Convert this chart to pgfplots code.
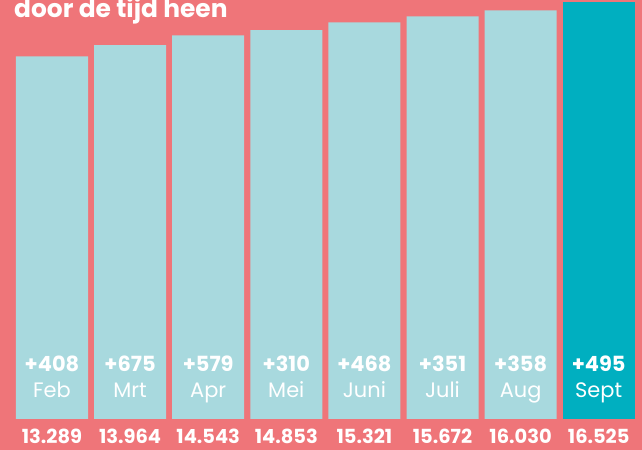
\documentclass[border=0pt]{standalone}
\usepackage{pgfplots}
\usepackage{pgfplotstable}
\pgfplotsset{compat=1.18}
\usepackage{fontspec}
\setmainfont{Poppins}
\definecolor{bg}{RGB}{239,117,121}
\definecolor{lightbar}{RGB}{168,217,222}
\definecolor{teal}{RGB}{0,175,192}
\tikzset{
  inc/.style={anchor=base, yshift=47bp, inner sep=0, text=white, font=\bfseries\fontsize{21}{21}\selectfont},
  mon/.style={anchor=base, yshift=21bp, inner sep=0, text=white, font=\fontsize{21}{21}\selectfont},
  tot/.style={anchor=base, yshift=-25bp, inner sep=0, text=white, font=\bfseries\fontsize{19.5}{19.5}\selectfont},
}
\pgfplotstableread{
i v d m lab
0 13289 408 Feb 13.289
1 13964 675 Mrt 13.964
2 14543 579 Apr 14.543
3 14853 310 Mei 14.853
4 15321 468 Juni 15.321
5 15672 351 Juli 15.672
6 16030 358 Aug 16.030
7 16525 495 Sept 16.525
}\datatab
\begin{document}
\begin{tikzpicture}
\path[use as bounding box] (0,-31bp) rectangle (642bp,419bp);
\clip (0,-31bp) rectangle (642bp,419bp);
\fill[bg] (0,-31bp) rectangle (642bp,419bp);
\begin{axis}[
  scale only axis, width=642bp, height=419bp,
  xmin=-0.6658, xmax=7.5544, ymin=0, ymax=25015,
  hide axis, clip=false,
  ybar, bar width=0.922, bar shift=0pt,
]
\addplot[fill=lightbar, draw=none, skip coords between index={7}{8}] table[x=i, y expr=\thisrow{v}+8360] {\datatab};
\addplot[fill=teal, draw=none, skip coords between index={0}{7}] table[x=i, y expr=\thisrow{v}+8360] {\datatab};
\pgfplotsinvokeforeach{0,...,7}{%
  \pgfplotstablegetelem{#1}{d}\of\datatab \let\dd\pgfplotsretval
  \pgfplotstablegetelem{#1}{m}\of\datatab \let\mm\pgfplotsretval
  \pgfplotstablegetelem{#1}{lab}\of\datatab \let\ll\pgfplotsretval
  \edef\temp{\noexpand\node[inc] at (axis cs:#1,0) {+\dd};
    \noexpand\node[mon] at (axis cs:#1,0) {\mm};
    \noexpand\node[tot] at (axis cs:#1,0) {\ll};}%
  \temp
}
\end{axis}
\node[anchor=base west, inner sep=0, text=white, font=\bfseries\fontsize{25}{25}\selectfont] at (14bp,401bp) {door de tijd heen};
\end{tikzpicture}
\end{document}
